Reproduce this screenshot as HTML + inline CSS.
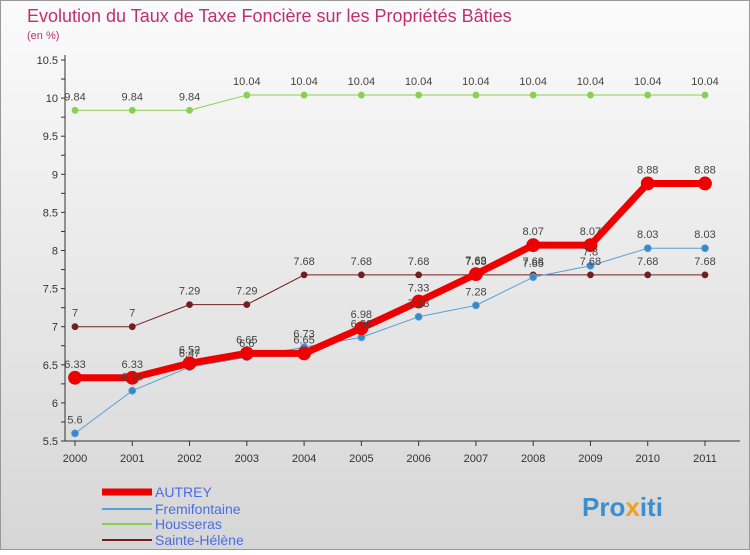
<!DOCTYPE html>
<html><head><meta charset="utf-8"><style>
body{margin:0;width:750px;height:550px;overflow:hidden;font-family:"Liberation Sans",sans-serif}
svg text{font-family:"Liberation Sans",sans-serif}
</style></head><body>
<svg id="c" width="750" height="550" xmlns="http://www.w3.org/2000/svg">
<defs><linearGradient id="bg" x1="0" y1="0" x2="0" y2="1"><stop offset="0" stop-color="#fbfbfb"/><stop offset="1" stop-color="#d6d6d6"/></linearGradient></defs>
<rect x="0.5" y="0.5" width="749" height="549" fill="url(#bg)" stroke="#999"/>
<text x="27" y="22" font-size="18" fill="#c03070">Evolution du Taux de Taxe Foncière sur les Propriétés Bâties</text>
<text x="27" y="39" font-size="11" fill="#c03070">(en %)</text>
<g id="axes"></g><g id="series"></g><g id="labels"></g>
<g>
<line x1="102" y1="492" x2="152" y2="492" stroke="#e00" stroke-width="7"/><text x="155" y="497" font-size="14" fill="#4a6ee0">AUTREY</text>
<line x1="102" y1="509" x2="152" y2="509" stroke="#5aa0d8" stroke-width="2"/><text x="155" y="514" font-size="14" fill="#4a6ee0">Fremifontaine</text>
<line x1="102" y1="524" x2="152" y2="524" stroke="#88d050" stroke-width="2"/><text x="155" y="529" font-size="14" fill="#4a6ee0">Housseras</text>
<line x1="102" y1="540" x2="152" y2="540" stroke="#702020" stroke-width="2"/><text x="155" y="545" font-size="14" fill="#4a6ee0">Sainte-Hélène</text>
</g>
<text x="582" y="516" font-size="26" font-weight="bold" fill="#3a8fd0">Pro<tspan fill="#f0a020">x</tspan>iti</text>
</svg>
<script>
const years=[2000,2001,2002,2003,2004,2005,2006,2007,2008,2009,2010,2011];
const yTicks=[5.5,6,6.5,7,7.5,8,8.5,9,9.5,10,10.5];
const autrey=[6.33,6.33,6.52,6.65,6.65,6.98,7.33,7.69,8.07,8.07,8.88,8.88];
const fremifontaine=[5.6,6.16,6.47,6.6,6.73,6.86,7.13,7.28,7.65,7.8,8.03,8.03];
const housseras=[9.84,9.84,9.84,10.04,10.04,10.04,10.04,10.04,10.04,10.04,10.04,10.04];
const sainteHelene=[7,7,7.29,7.29,7.68,7.68,7.68,7.68,7.68,7.68,7.68,7.68];
const NS="http://www.w3.org/2000/svg";
const X=i=>75+i*(705-75)/(years.length-1);
const Y=v=>441-(v-5.5)*(441-60)/5;
function mk(t,a,p){const e=document.createElementNS(NS,t);for(const k in a)e.setAttribute(k,a[k]);p.appendChild(e);return e;}
const ax=document.getElementById('axes');
mk('line',{x1:65,y1:55,x2:65,y2:441,stroke:'#333'},ax);
mk('line',{x1:65,y1:441,x2:740,y2:441,stroke:'#333'},ax);
for(let v=5.5;v<=10.51;v+=0.25){mk('line',{x1:61,y1:Y(v),x2:65,y2:Y(v),stroke:'#333'},ax);}
yTicks.forEach(v=>{const t=mk('text',{x:58,y:Y(v)+4,'font-size':11,'text-anchor':'end',fill:'#333'},ax);t.textContent=v;

});
years.forEach((y,i)=>{mk('line',{x1:X(i),y1:441,x2:X(i),y2:446,stroke:'#333'},ax);const t=mk('text',{x:X(i),y:462,'font-size':11,'text-anchor':'middle',fill:'#333'},ax);t.textContent=y;

});
const sg=document.getElementById('series'),lg=document.getElementById('labels');
function draw(data,name,color,w,r,fill){
 const g=mk('g',{},sg);
 
 
 mk('polyline',{points:data.map((v,i)=>X(i)+','+Y(v)).join(' '),fill:'none',stroke:color,'stroke-width':w,'stroke-linejoin':'round'},g);
 data.forEach((v,i)=>{const c=mk('circle',{cx:X(i),cy:Y(v),r:r,fill:fill,stroke:color,'stroke-width':0.8},g);
 
 
 const t=mk('text',{x:X(i),y:Y(v)-10,'font-size':11,'text-anchor':'middle',fill:'#444'},lg);t.textContent=v;
 
 });
}
draw(housseras,'housseras','#88d050',1,3,'#88d050');
draw(sainteHelene,'sainte-helene','#702020',1,3,'#702020');
draw(fremifontaine,'fremifontaine','#5aa0d8',1,3.5,'#3a88c8');
draw(autrey,'autrey','#e00',7,6.5,'#e00');
</script>
</body></html>
